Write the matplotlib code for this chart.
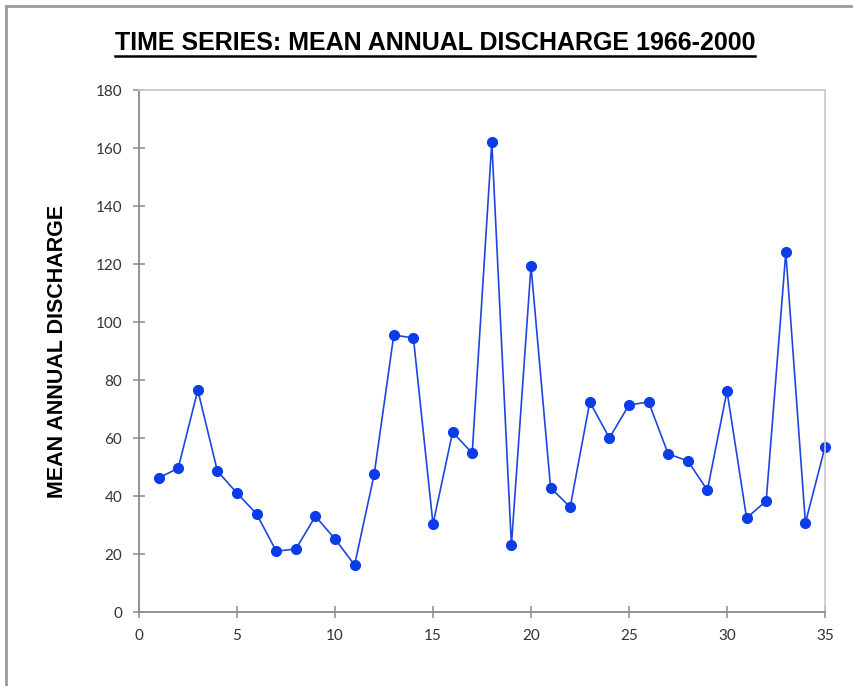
import matplotlib
matplotlib.use("Agg")
import matplotlib.pyplot as plt
from matplotlib import font_manager
from matplotlib.lines import Line2D

years_idx = list(range(1, 36))
discharge = [46.2, 49.6, 76.5, 48.6, 41.0, 33.8, 21.0, 21.7, 33.0, 25.2,
             16.2, 47.5, 95.5, 94.5, 30.3, 62.0, 54.8, 162.0, 23.0, 119.3,
             42.8, 36.2, 72.4, 60.0, 71.4, 72.4, 54.5, 52.1, 42.0, 76.2,
             32.4, 38.3, 124.0, 30.7, 56.9]
xticks = [0, 5, 10, 15, 20, 25, 30, 35]
yticks = [0, 20, 40, 60, 80, 100, 120, 140, 160, 180]
title = "TIME SERIES: MEAN ANNUAL DISCHARGE 1966-2000"
ylabel = "MEAN ANNUAL DISCHARGE"

names = {f.name for f in font_manager.fontManager.ttflist}
title_font = "Liberation Sans Narrow" if "Liberation Sans Narrow" in names else "Liberation Sans"
label_font = "Liberation Sans"
tick_font = "Lato" if "Lato" in names else "DejaVu Sans"

W, H = 854, 686
fig = plt.figure(figsize=(W / 100, H / 100), dpi=100)
fig.patch.set_facecolor("white")

ax = fig.add_axes([139 / W, 1 - 612 / H, (825 - 139) / W, (612 - 90) / H])
ax.plot(years_idx, discharge, color="#1f45e0", lw=1.2, marker="o",
        markersize=7, markerfacecolor="#0a3de8", markeredgecolor="#0a3de8",
        clip_on=False)
ax.set_xlim(0, 35)
ax.set_ylim(0, 180)
ax.set_xticks(xticks)
ax.set_yticks(yticks)
for s in ["top", "right"]:
    ax.spines[s].set_color("#c8c8c8")
    ax.spines[s].set_linewidth(1.2)
for s in ["left", "bottom"]:
    ax.spines[s].set_color("#8a8a8a")
    ax.spines[s].set_linewidth(1.3)
ax.tick_params(direction="inout", length=8, width=1.1, color="#8a8a8a",
               labelsize=11, labelcolor="#333333", pad=8)
for lab in ax.get_xticklabels() + ax.get_yticklabels():
    lab.set_fontfamily(tick_font)
ax.set_ylabel(ylabel, fontsize=15.5, fontweight="bold", family=label_font,
              labelpad=20)

t = fig.text(435 / W, 1 - 43 / H, title, ha="center", va="center",
             fontsize=18, fontweight="bold", family=title_font)
fig.canvas.draw()
bb = t.get_window_extent()
fig.add_artist(Line2D([bb.x0 / W, bb.x1 / W], [(bb.y0 - 1) / H, (bb.y0 - 1) / H],
                      color="black", lw=1.8, transform=fig.transFigure))

# outer page border (left and top)
fig.add_artist(Line2D([6 / W, 6 / W], [0, 1 - 6 / H], color="#9a9a9a", lw=2,
                      transform=fig.transFigure))
fig.add_artist(Line2D([6 / W, 1], [1 - 6 / H, 1 - 6 / H], color="#9a9a9a", lw=2,
                      transform=fig.transFigure))

fig.savefig("out.png", dpi=100)
